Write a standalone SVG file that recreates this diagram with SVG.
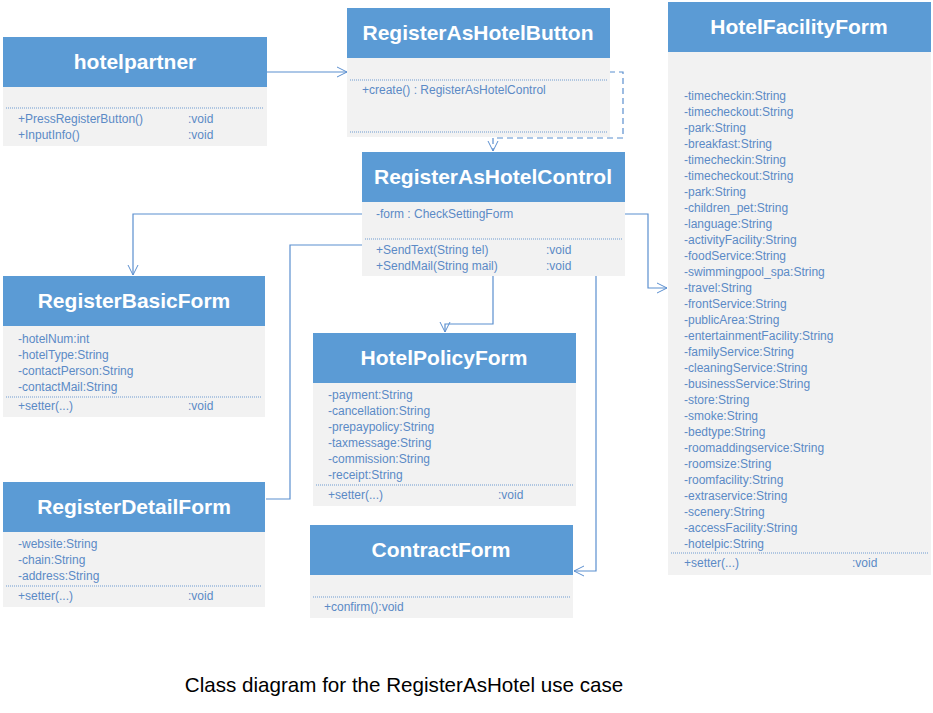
<svg xmlns="http://www.w3.org/2000/svg" width="933" height="713" viewBox="0 0 933 713">
<defs>
<marker id="arr" markerWidth="12" markerHeight="12" refX="10" refY="5" orient="auto" markerUnits="userSpaceOnUse" viewBox="0 0 12 10">
<path d="M0,0 L10,5 L0,10" fill="none" stroke="#5b8fcf" stroke-width="1"/>
</marker>
<style>
.hd{fill:#5b9bd5}
.bd{fill:#f2f2f2}
.ttl{font-family:"Liberation Sans",Arial,sans-serif;font-weight:bold;font-size:21px;fill:#ffffff;text-anchor:middle}
.t{font-family:"Liberation Sans",Arial,sans-serif;font-size:12px;fill:#5b8ac6}
.dot{stroke:#6f9bd0;stroke-width:1;stroke-dasharray:1 1;fill:none}
.ln{stroke:#5b8fcf;stroke-width:1.2;fill:none}
.cap{font-family:"Liberation Sans",Arial,sans-serif;font-size:20.6px;fill:#000000}
</style>
</defs>
<rect width="933" height="713" fill="#ffffff"/>

<g id="connectors">
<path class="ln" d="M267,72 H347" marker-end="url(#arr)"/>
<path class="ln" d="M609,72 H623 V138 H493 V151" stroke-dasharray="6 4" marker-end="url(#arr)"/>
<path class="ln" d="M362,214 H133 V275" marker-end="url(#arr)"/>
<path class="ln" d="M362,245 H290 V499 H266"/>
<path class="ln" d="M493,276 V324 H445 V332" marker-end="url(#arr)"/>
<path class="ln" d="M596,276 V571 H574" marker-end="url(#arr)"/>
<path class="ln" d="M625,214 H648 V288 H667" marker-end="url(#arr)"/>
</g>

<g id="hotelpartner">
<rect class="bd" x="3" y="87" width="264" height="59"/>
<rect class="hd" x="3" y="37" width="264" height="50"/>
<text class="ttl" x="135" y="69">hotelpartner</text>
<line class="dot" x1="6" y1="108" x2="264" y2="108"/>
<text class="t" x="18" y="123">+PressRegisterButton()</text>
<text class="t" x="188" y="123">:void</text>
<text class="t" x="18" y="139">+InputInfo()</text>
<text class="t" x="188" y="139">:void</text>
</g>

<g id="RegisterAsHotelButton">
<rect class="bd" x="347" y="58" width="263" height="79"/>
<rect class="hd" x="347" y="8" width="263" height="50"/>
<text class="ttl" x="478" y="40">RegisterAsHotelButton</text>
<line class="dot" x1="350" y1="80" x2="608" y2="80"/>
<text class="t" x="362" y="94">+create() : RegisterAsHotelControl</text>
<line class="dot" x1="350" y1="132" x2="608" y2="132"/>
</g>

<g id="RegisterAsHotelControl">
<rect class="bd" x="362" y="202" width="263" height="74"/>
<rect class="hd" x="362" y="152" width="263" height="50"/>
<text class="ttl" x="493" y="184">RegisterAsHotelControl</text>
<text class="t" x="376" y="218">-form : CheckSettingForm</text>
<line class="dot" x1="365" y1="239" x2="622" y2="239"/>
<text class="t" x="376" y="254">+SendText(String tel)</text>
<text class="t" x="546" y="254">:void</text>
<text class="t" x="376" y="270">+SendMail(String mail)</text>
<text class="t" x="546" y="270">:void</text>
</g>

<g id="RegisterBasicForm">
<rect class="bd" x="3" y="326" width="262" height="91"/>
<rect class="hd" x="3" y="276" width="262" height="50"/>
<text class="ttl" x="134" y="308">RegisterBasicForm</text>
<text class="t" x="18" y="343">-hotelNum:int</text>
<text class="t" x="18" y="359">-hotelType:String</text>
<text class="t" x="18" y="375">-contactPerson:String</text>
<text class="t" x="18" y="391">-contactMail:String</text>
<line class="dot" x1="6" y1="397" x2="262" y2="397"/>
<text class="t" x="18" y="410">+setter(...)</text>
<text class="t" x="188" y="410">:void</text>
</g>

<g id="HotelPolicyForm">
<rect class="bd" x="313" y="383" width="263" height="123"/>
<rect class="hd" x="313" y="333" width="263" height="50"/>
<text class="ttl" x="444" y="365">HotelPolicyForm</text>
<text class="t" x="328" y="399">-payment:String</text>
<text class="t" x="328" y="415">-cancellation:String</text>
<text class="t" x="328" y="431">-prepaypolicy:String</text>
<text class="t" x="328" y="447">-taxmessage:String</text>
<text class="t" x="328" y="463">-commission:String</text>
<text class="t" x="328" y="479">-receipt:String</text>
<line class="dot" x1="316" y1="485" x2="573" y2="485"/>
<text class="t" x="328" y="499">+setter(...)</text>
<text class="t" x="498" y="499">:void</text>
</g>

<g id="RegisterDetailForm">
<rect class="bd" x="3" y="532" width="262" height="75"/>
<rect class="hd" x="3" y="482" width="262" height="50"/>
<text class="ttl" x="134" y="514">RegisterDetailForm</text>
<text class="t" x="18" y="548">-website:String</text>
<text class="t" x="18" y="564">-chain:String</text>
<text class="t" x="18" y="580">-address:String</text>
<line class="dot" x1="6" y1="586" x2="262" y2="586"/>
<text class="t" x="18" y="600">+setter(...)</text>
<text class="t" x="188" y="600">:void</text>
</g>

<g id="ContractForm">
<rect class="bd" x="310" y="575" width="263" height="43"/>
<rect class="hd" x="310" y="525" width="263" height="50"/>
<text class="ttl" x="441" y="557">ContractForm</text>
<line class="dot" x1="313" y1="597" x2="570" y2="597"/>
<text class="t" x="324" y="611">+confirm():void</text>
</g>

<g id="HotelFacilityForm">
<rect class="bd" x="668" y="52" width="263" height="523"/>
<rect class="hd" x="668" y="2" width="263" height="50"/>
<text class="ttl" x="799" y="34">HotelFacilityForm</text>
<text class="t" x="684" y="100">-timecheckin:String</text>
<text class="t" x="684" y="116">-timecheckout:String</text>
<text class="t" x="684" y="132">-park:String</text>
<text class="t" x="684" y="148">-breakfast:String</text>
<text class="t" x="684" y="164">-timecheckin:String</text>
<text class="t" x="684" y="180">-timecheckout:String</text>
<text class="t" x="684" y="196">-park:String</text>
<text class="t" x="684" y="212">-children_pet:String</text>
<text class="t" x="684" y="228">-language:String</text>
<text class="t" x="684" y="244">-activityFacility:String</text>
<text class="t" x="684" y="260">-foodService:String</text>
<text class="t" x="684" y="276">-swimmingpool_spa:String</text>
<text class="t" x="684" y="292">-travel:String</text>
<text class="t" x="684" y="308">-frontService:String</text>
<text class="t" x="684" y="324">-publicArea:String</text>
<text class="t" x="684" y="340">-entertainmentFacility:String</text>
<text class="t" x="684" y="356">-familyService:String</text>
<text class="t" x="684" y="372">-cleaningService:String</text>
<text class="t" x="684" y="388">-businessService:String</text>
<text class="t" x="684" y="404">-store:String</text>
<text class="t" x="684" y="420">-smoke:String</text>
<text class="t" x="684" y="436">-bedtype:String</text>
<text class="t" x="684" y="452">-roomaddingservice:String</text>
<text class="t" x="684" y="468">-roomsize:String</text>
<text class="t" x="684" y="484">-roomfacility:String</text>
<text class="t" x="684" y="500">-extraservice:String</text>
<text class="t" x="684" y="516">-scenery:String</text>
<text class="t" x="684" y="532">-accessFacility:String</text>
<text class="t" x="684" y="548">-hotelpic:String</text>
<line class="dot" x1="671" y1="553" x2="928" y2="553"/>
<text class="t" x="684" y="567">+setter(...)</text>
<text class="t" x="852" y="567">:void</text>
</g>

<text class="cap" x="404" y="692" text-anchor="middle">Class diagram for the RegisterAsHotel use case</text>
</svg>
